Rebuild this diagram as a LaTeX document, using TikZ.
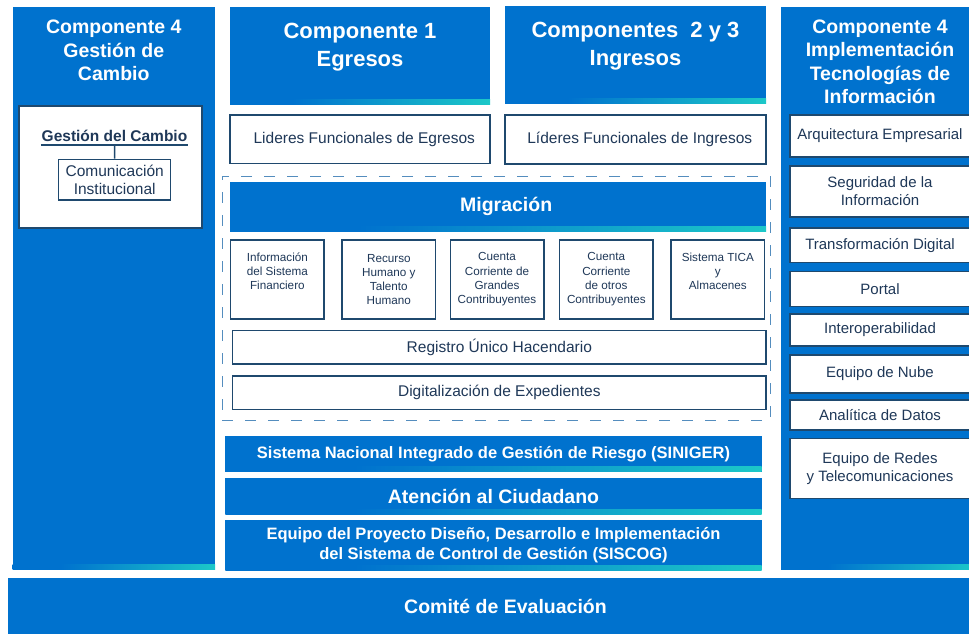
\documentclass[tikz,border=0pt]{standalone}
\usepackage{fontspec}
\setmainfont{Liberation Sans}

\definecolor{mainblue}{RGB}{0,114,206}
\definecolor{tealc}{RGB}{28,200,200}
\definecolor{borderc}{RGB}{31,73,110}
\definecolor{textc}{RGB}{31,56,88}
\definecolor{dashc}{RGB}{84,141,190}

% teal band at the bottom of the blue boxes
\pgfdeclarehorizontalshading{band}{100bp}{color(0bp)=(mainblue); color(37bp)=(mainblue); color(75bp)=(tealc); color(100bp)=(tealc)}

\tikzset{
  bluebox/.style={fill=mainblue, text=white, inner sep=0pt, outer sep=0pt, align=center},
  blueband/.style={bluebox,
    path picture={\shade[shading=band] ([yshift=5pt]path picture bounding box.south west) rectangle (path picture bounding box.south east);}},
  whitebox/.style={draw=borderc, line width=1.5pt, fill=white, text=textc, inner sep=0pt, align=center,
    font=\fontsize{15.5}{18.5}\selectfont},
  smallbox/.style={whitebox, minimum width=93.5pt, minimum height=79pt, font=\fontsize{11.7}{14.3}\selectfont},
  sidebox/.style={whitebox, minimum width=180pt, font=\fontsize{15}{18}\selectfont},
  headtext/.style={text=white, inner sep=0pt, align=center, font=\fontsize{19.5}{23.5}\selectfont\bfseries},
  bighead/.style={headtext, font=\fontsize{22}{28}\selectfont\bfseries},
  dashframe/.style={draw=dashc, line width=1pt, dash pattern=on 11pt off 12pt, inner sep=0pt},
}

\begin{document}
\begin{tikzpicture}[x=1pt, y=-1pt]
  \useasboundingbox (0,0) rectangle (969,633);
  \clip (0,0) rectangle (969,633);

  % left column
  \node[blueband, minimum width=202.5pt, minimum height=562pt] (gdcol) at (113.75,288) {};
  \node[headtext] (gdtitle) at (113.75,50.5) {Componente 4\\Gestión de\\Cambio};
  \node[whitebox, minimum width=183pt, minimum height=122pt] (gdbox) at (110.5,167) {};
  \node[text=textc, anchor=south, minimum width=147pt, inner xsep=0pt, inner ysep=3pt,
    font=\fontsize{15.5}{18}\selectfont\bfseries] (gdhead) at (114.5,145) {Gestión del Cambio};
  \node[whitebox, minimum width=112pt, minimum height=40.7pt] (comm) at (114.7,179.7) {Comunicación\\Institucional};
  \draw[borderc, line width=1.5pt] (gdhead.south west) -- (gdhead.south east);
  \draw[borderc, line width=1.5pt] (gdhead.south) -- (comm.north);

  % right column
  \node[blueband, minimum width=194pt, minimum height=562pt] (tecol) at (878,288) {};
  \node[headtext] (tetitle) at (880,62) {Componente 4\\Implementación\\Tecnologías de\\Información};
  \node[sidebox, minimum height=42pt] (arq) at (880,136) {Arquitectura Empresarial};
  \node[sidebox, minimum height=51pt] (seg) at (880,191.5) {Seguridad de la\\Información};
  \node[sidebox, minimum height=34.3pt] (tra) at (880,245.2) {Transformación Digital};
  \node[sidebox, minimum height=35pt] (por) at (880,289.2) {Portal};
  \node[sidebox, minimum height=32pt] (inte) at (880,330) {Interoperabilidad};
  \node[sidebox, minimum height=37.7pt] (nub) at (880,373.9) {Equipo de Nube};
  \node[sidebox, minimum height=30pt] (ana) at (880,415) {Analítica de Datos};
  \node[sidebox, minimum height=60pt] (red) at (880,468.3) {Equipo de Redes\\y Telecomunicaciones};

  % components 1, 2 y 3
  \node[blueband, minimum width=260pt, minimum height=97pt] (comp1) at (360,55.5) {};
  \node[bighead] (comp1t) at (360,47) {Componente 1\\Egresos};
  \node[blueband, minimum width=261pt, minimum height=97pt] (comp23) at (635.5,54.5) {};
  \node[bighead] (comp23t) at (635.5,46.5) {Componentes\ \ 2 y 3\\Ingresos};
  \node[whitebox, minimum width=260pt, minimum height=48.5pt] (lidE) at (360,139.25) {\ \ Lideres Funcionales de Egresos};
  \node[whitebox, minimum width=261pt, minimum height=49pt] (lidI) at (635.5,139.5) {\ \ Líderes Funcionales de Ingresos};

  % migracion
  \node[dashframe, minimum width=548.2pt, minimum height=244.5pt] (migframe) at (496.4,298.25) {};
  \node[blueband, minimum width=536pt, minimum height=49.3pt, font=\fontsize{19.5}{23.5}\selectfont\bfseries] (mig) at (498,206.35) {\ \ \ Migración};
  \node[smallbox] (sfin) at (277.35,279.5) {Información\\del Sistema\\Financiero\\[2pt]};
  \node[smallbox] (srh) at (388.85,279.5) {Recurso\\Humano y\\Talento\\Humano};
  \node[smallbox] (sgc) at (497,279.5) {Cuenta\\Corriente de\\Grandes\\Contribuyentes};
  \node[smallbox] (soc) at (606.35,279.5) {Cuenta\\Corriente\\de otros\\Contribuyentes};
  \node[smallbox] (stica) at (717.85,279.5) {Sistema TICA\\y\\Almacenes\\[2pt]};
  \node[whitebox, minimum width=533.3pt, minimum height=33.3pt] (reg) at (499.35,347.35) {Registro Único Hacendario};
  \node[whitebox, minimum width=533.3pt, minimum height=33.3pt] (dig) at (499.35,392.65) {Digitalización de Expedientes};

  % lower bars
  \node[blueband, minimum width=536.4pt, minimum height=36pt, font=\fontsize{16.5}{20}\selectfont\bfseries] (sin) at (493.5,453.7) {Sistema Nacional Integrado de Gestión de Riesgo (SINIGER)};
  \node[blueband, minimum width=536.4pt, minimum height=36.6pt, font=\fontsize{19.5}{23.5}\selectfont\bfseries] (ate) at (493.5,496) {Atención al Ciudadano};
  \node[blueband, minimum width=536.4pt, minimum height=50pt, font=\fontsize{16.5}{20}\selectfont\bfseries] (equ) at (493.5,545) {Equipo del Proyecto Diseño, Desarrollo e Implementación\\del Sistema de Control de Gestión (SISCOG)};
  \node[bluebox, minimum width=994.4pt, minimum height=55.4pt, font=\fontsize{19.5}{23.5}\selectfont\bfseries] (com) at (505.5,606) {Comité de Evaluación};
\end{tikzpicture}
\end{document}
